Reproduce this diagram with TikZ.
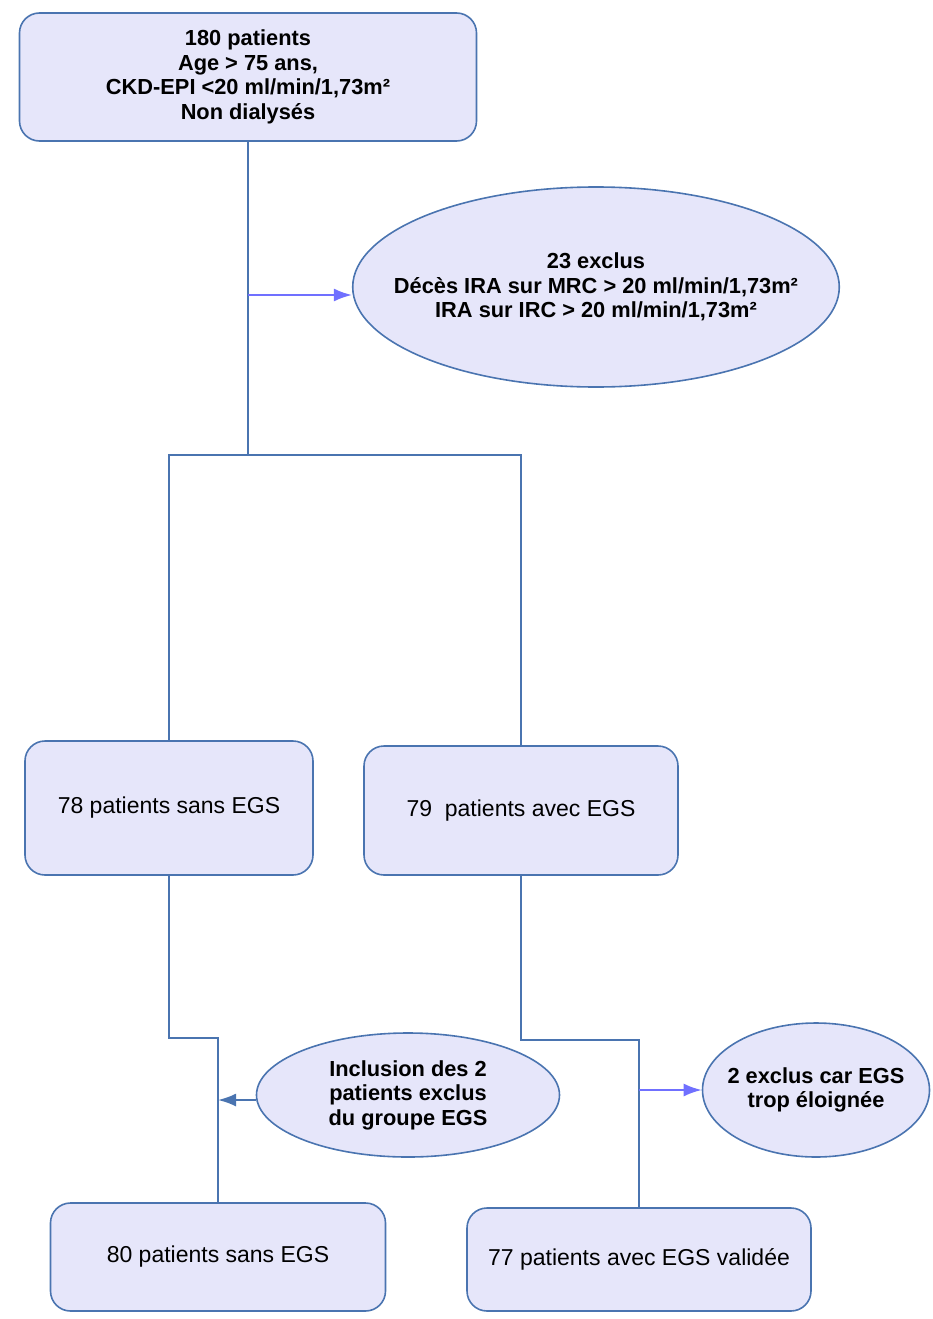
\documentclass[tikz,border=0pt]{standalone}
\usepackage{fontspec}
\setmainfont{Liberation Sans}
\usetikzlibrary{shapes.geometric,arrows.meta}
\definecolor{boxfill}{HTML}{E6E6FA}
\definecolor{boxline}{HTML}{4A74B0}
\definecolor{arrowcol}{HTML}{7070FF}
\tikzset{every picture/.style={line width=2pt}}
\tikzset{
  box/.style={draw=boxline, fill=boxfill, rounded corners=20pt,
                inner sep=0pt, align=center, line width=1.6pt},
  oval/.style={ellipse, draw=boxline, fill=boxfill, inner ysep=0pt,
                inner xsep=-30pt, align=center, line width=1.6pt},
  big/.style={font=\fontsize{21.8}{24.5}\selectfont\bfseries},
  small/.style={font=\fontsize{23}{25}\selectfont},
  link/.style={draw=boxline},
  excl/.style={draw=arrowcol, -{Latex[length=18pt,width=13pt]}},
  incl/.style={draw=boxline, -{Latex[length=18pt,width=13pt]}},
}

\begin{document}
\begin{tikzpicture}[x=1pt,y=-1pt]
  \useasboundingbox (0,0) rectangle (933,1319);
  % boxes of the flow chart
  \node[box, big, minimum width=457pt, minimum height=128pt] (top) at (248,77)
    {180 patients\\Age > 75 ans,\\CKD-EPI <20 ml/min/1,73m²\\Non dialysés};
  \node[oval, big, minimum width=483pt, minimum height=200pt] (ex1) at (596,287)
    {23 exclus\\Décès IRA sur MRC > 20 ml/min/1,73m²\\IRA sur IRC > 20 ml/min/1,73m²};
  \node[box, small, minimum width=288pt, minimum height=134pt] (b78) at (169,808)
    {78 patients sans EGS};
  \node[box, small, minimum width=314pt, minimum height=129pt] (b79) at (521,810.5)
    {79 \ patients avec EGS};
  \node[oval, big, minimum width=303pt, minimum height=124pt] (ex2) at (408,1095)
    {Inclusion des 2\\patients exclus\\du groupe EGS};
  \node[oval, big, minimum width=227pt, minimum height=134pt] (ex3) at (816,1090)
    {2 exclus car EGS\\trop éloignée};
  \node[box, small, minimum width=335pt, minimum height=108pt] (b80) at (218,1257)
    {80 patients sans EGS};
  \node[box, small, minimum width=344pt, minimum height=103pt] (b77) at (639,1259.5)
    {77 patients avec EGS validée};
  % junctions
  \coordinate (split) at (248,455);
  \coordinate (j1) at (218,1038);
  \coordinate (j2) at (639,1040);
  % connectors
  \draw[link] (top) -- (split);
  \draw[link] (b78.north) |- (split) -| (b79.north);
  \draw[link] (b78.south) |- (j1) -- (b80.north);
  \draw[link] (b79.south) |- (j2) -- (b77.north);
  \draw[excl] ([yshift=-8pt]top.south |- ex1.west) -- ([yshift=-8pt]ex1.west);
  \draw[incl] ([yshift=-5pt]ex2.west) -- ([yshift=-5pt]b80.north |- ex2.west);
  \draw[excl] (b77.north |- ex3.west) -- (ex3.west);
\end{tikzpicture}
\end{document}
